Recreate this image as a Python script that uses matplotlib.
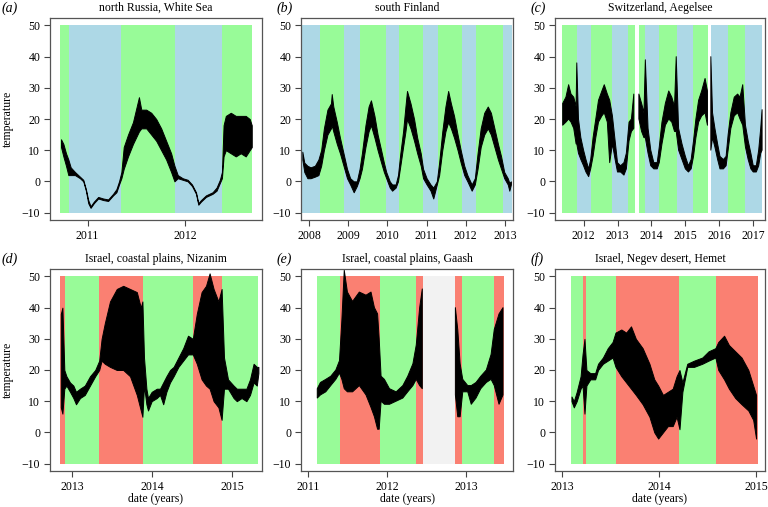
import numpy as np
import matplotlib
matplotlib.use('Agg')
import matplotlib.pyplot as plt

plt.rcParams['font.family'] = ['Liberation Serif', 'DejaVu Serif']

# season colours used for the background bands
palette = {'B': '#ADD8E6', 'G': '#98FB98', 'S': '#FA8072', 'W': '#F2F2F2'}

# (a) north Russia, White Sea
a_xlim = [2010.615, 2012.789]
a_edges = [2010.717, 2010.81, 2011.347, 2011.90, 2012.38, 2012.69]
a_cols = ['G', 'B', 'G', 'B', 'G']
a_t = [2010.728, 2010.752, 2010.779, 2010.803, 2010.827, 2010.871, 2010.922, 2010.956,
       2010.983, 2011.007, 2011.031, 2011.065, 2011.109, 2011.160, 2011.211, 2011.262,
       2011.296, 2011.323, 2011.347, 2011.371, 2011.415, 2011.466, 2011.527, 2011.551,
       2011.602, 2011.653, 2011.704, 2011.755, 2011.806, 2011.857, 2011.891, 2011.925,
       2011.976, 2012.027, 2012.071, 2012.112, 2012.136, 2012.163, 2012.214, 2012.282,
       2012.323, 2012.357, 2012.378, 2012.395, 2012.418, 2012.469, 2012.520, 2012.571,
       2012.622, 2012.663, 2012.684]
a_lo = [11, 8, 5, 2, 2, 2, 1, 0, -3, -7, -8.5, -7, -5.5, -6, -6.3, -4.5, -3.5, -1, 1, 4,
        8, 12, 16, 17, 17, 15, 13, 10, 7, 3, 0, 1, 0.5, 0, -1.5, -4, -7.5, -6.5, -5, -4,
        -3, -0.5, 1, 8, 10, 9, 8, 9, 8, 10, 11]
a_hi = [13.5, 12, 9, 7, 4.5, 3, 1.5, 0.5, -2.5, -6, -8, -6.5, -5, -5.5, -5.8, -4, -2.5,
        0, 3, 11, 15, 19, 27, 23, 23, 22, 20, 17, 13, 9, 5, 2, 1, 0.5, -1, -3.5, -7, -6,
        -4.5, -3.5, -2, 0.5, 3, 18, 21, 22, 21, 21, 21, 20, 18]

# (b) south Finland
b_xlim = [2007.796, 2013.204]
b_edges = [2007.83, 2008.28, 2008.90, 2009.30, 2009.96, 2010.30, 2010.91, 2011.30,
           2011.91, 2012.25, 2012.955, 2013.17]
b_cols = ['B', 'G', 'B', 'G', 'B', 'G', 'B', 'G', 'B', 'G', 'B']
b_t = [2007.83, 2007.88, 2007.96, 2008.04, 2008.15, 2008.24, 2008.31, 2008.38, 2008.47,
       2008.56, 2008.58, 2008.62, 2008.71, 2008.79, 2008.88, 2008.97, 2009.05, 2009.14,
       2009.22, 2009.29, 2009.35, 2009.44, 2009.52, 2009.58, 2009.67, 2009.75, 2009.84,
       2009.91, 2009.97, 2010.06, 2010.12, 2010.21, 2010.27, 2010.33, 2010.40, 2010.46,
       2010.50, 2010.59, 2010.68, 2010.76, 2010.85, 2010.91, 2011.00, 2011.10, 2011.17,
       2011.26, 2011.32, 2011.40, 2011.48, 2011.55, 2011.62, 2011.70, 2011.79, 2011.87,
       2011.96, 2012.04, 2012.15, 2012.23, 2012.30, 2012.38, 2012.47, 2012.56, 2012.64,
       2012.73, 2012.82, 2012.90, 2012.98, 2013.07, 2013.11, 2013.15]
b_lo = [7, 3, 1, 1, 1.5, 2, 5, 10, 15, 17, 18, 16, 12, 9, 5, 1, -1, -3.5, -1.5, 1, 4, 11,
        16, 18, 14, 10, 6, 3, 1, -2, -3, -2, 0, 5, 11, 16, 20, 17, 13, 9, 5, 1, -1, -3,
        -5.5, -1, 2, 10, 16, 19, 17, 14, 10, 6, 2, 0, -3, -1, 4, 11, 15, 17, 15, 11, 7, 4,
        1, -1, -3, -1]
b_hi = [9.5, 6, 5, 4.5, 5, 7, 10, 17, 23, 25, 28, 24, 19, 14, 9, 4, 1, 0, 0, 4, 9, 18,
        24, 26, 21, 15, 10, 6, 3, 0, -1, -1, 2, 9, 16, 24, 29, 25, 20, 14, 9, 4, 1, -1,
        -2, 0, 6, 16, 24, 29, 25, 21, 15, 10, 5, 2, -1, 1, 9, 17, 22, 24, 22, 17, 12, 8,
        3, 1, -0.5, 0]

# (c) Switzerland, Aegelsee  (None = no data)
c_xlim = [2011.158, 2017.346]
c_edges = [2011.37, 2011.80, 2012.21, 2012.83, 2013.31, 2013.52, 2013.64, 2013.80,
           2014.22, 2014.74, 2015.22, 2015.67, 2015.76, 2016.26, 2016.77, 2017.27]
c_cols = ['G', 'B', 'G', 'B', 'G', None, 'G', 'B', 'G', 'B', 'G', None, 'B', 'G', 'B']
c_t = [2011.385, 2011.48, 2011.56, 2011.63, 2011.71, 2011.78, 2011.80, 2011.85, 2011.92,
       2012.00, 2012.07, 2012.15, 2012.21, 2012.28, 2012.36, 2012.44, 2012.54, 2012.61,
       2012.70, 2012.77, 2012.85, 2012.93, 2013.00, 2013.09, 2013.19, 2013.26, 2013.34,
       2013.41, 2013.48, 2013.55, 2013.63, 2013.71, 2013.78, 2013.82, 2013.90, 2013.98,
       2014.07, 2014.17, 2014.23, 2014.31, 2014.41, 2014.51, 2014.60, 2014.68, 2014.73,
       2014.80, 2014.90, 2015.00, 2015.09, 2015.17, 2015.24, 2015.31, 2015.39, 2015.48,
       2015.58, 2015.65, 2015.70, 2015.75, 2015.80, 2015.87, 2015.95, 2016.02, 2016.12,
       2016.20, 2016.26, 2016.34, 2016.44, 2016.54, 2016.61, 2016.69, 2016.77, 2016.85,
       2016.93, 2017.00, 2017.09, 2017.16, 2017.22, 2017.26]
c_lo = [18, 19, 20, 19, 17, 12, 12, 9, 7, 5, 3, 1.5, 4, 8, 14, 19, 21, 22, 19, 6, 12, 7,
        3, 3, 2, 4, 13, 16, 17, np.nan, 20, 16, 14, 14, 9, 5, 4, 4, 6, 12, 18, 20, 19, 16,
        16, 10, 7, 4, 3, 4, 8, 14, 19, 21, 22, 18, np.nan, 10, 14, 11, 7, 4, 4, 5, 10, 17,
        21, 22, 20, 18, 11, 7, 4, 3, 3, 5, 9, 10]
c_hi = [25, 27, 31, 28, 27, 24, 38, 20, 14, 10, 7, 4, 7, 14, 20, 26, 29, 31, 28, 26, 21,
        13, 6, 5, 6, 9, 19, 20, 28, np.nan, 28, 25, 22, 39, 17, 10, 6, 6, 11, 19, 25, 29,
        27, 24, 40, 17, 12, 8, 5, 7, 13, 20, 26, 29, 33, 29, np.nan, 40, 22, 17, 12, 8, 7,
        8, 15, 22, 27, 28, 27, 31, 18, 13, 9, 5, 5, 10, 17, 23]

# (d) Israel, coastal plains, Nizanim
d_xlim = [2012.725, 2015.375]
d_edges = [2012.856, 2012.91, 2013.34, 2013.89, 2014.51, 2014.88, 2015.325]
d_cols = ['S', 'G', 'S', 'G', 'S', 'G']
d_t = [2012.86, 2012.88, 2012.904, 2012.93, 2012.975, 2013.017, 2013.05, 2013.10,
       2013.16, 2013.225, 2013.29, 2013.34, 2013.37, 2013.41, 2013.475, 2013.56, 2013.64,
       2013.725, 2013.81, 2013.86, 2013.88, 2013.90, 2013.93, 2013.95, 2013.996, 2014.06,
       2014.10, 2014.14, 2014.18, 2014.225, 2014.27, 2014.33, 2014.39, 2014.45, 2014.51,
       2014.56, 2014.62, 2014.675, 2014.72, 2014.77, 2014.83, 2014.87, 2014.90, 2014.95,
       2015.02, 2015.06, 2015.12, 2015.18, 2015.225, 2015.27, 2015.31, 2015.33]
d_lo = [8, 6, 14, 15, 13, 11, 9, 11, 12, 15, 18, 20, 23, 22, 21, 20, 20, 18, 12, 7, 5,
        15, 9, 7, 10, 11, 12, 9, 13, 16, 18, 21, 23, 25, 25, 22, 17, 15, 14, 10, 8, 4, 14,
        14, 11, 10, 11, 10, 12, 16, 15, 19]
d_hi = [38, 40, 20, 18, 16, 15, 13, 14, 15, 18, 20, 23, 30, 35, 42, 46, 47, 46, 45, 40,
        42, 24, 14, 11, 13, 14, 14, 16, 18, 20, 21, 24, 27, 31, 30, 38, 45, 47, 51, 46, 42,
        46, 24, 17, 15, 14, 14, 14, 17, 22, 21, 21]

# (e) Israel, coastal plains, Gaash
e_xlim = [2010.915, 2013.586]
e_edges = [2011.12, 2011.41, 2011.915, 2012.36, 2012.45, 2012.86, 2012.94, 2013.35, 2013.47]
e_cols = ['G', 'S', 'G', 'S', 'W', 'S', 'G', 'S']
e_t = [2011.12, 2011.16, 2011.227, 2011.29, 2011.354, 2011.40, 2011.43, 2011.46, 2011.50,
       2011.565, 2011.65, 2011.734, 2011.797, 2011.84, 2011.88, 2011.90, 2011.924,
       2011.966, 2012.03, 2012.114, 2012.198, 2012.26, 2012.325, 2012.367, 2012.41,
       2012.443, 2012.65, 2012.86, 2012.89, 2012.92, 2012.953, 2013.016, 2013.06, 2013.12,
       2013.18, 2013.25, 2013.31, 2013.35, 2013.41, 2013.46]
e_lo = [11, 12, 13, 15, 17, 19, 17, 14, 13, 13, 15, 12, 8, 5, 1, 1, 10, 9, 9, 10, 11, 13,
        15, 17, 15, 14, np.nan, 12, 5, 5, 13, 13, 9, 11, 14, 16, 17, 15, 9, 12]
e_hi = [14, 16, 17, 18, 20, 23, 36, 52, 45, 42, 45, 44, 45, 40, 38, 30, 18, 17, 14, 13,
        15, 18, 22, 28, 40, 46, np.nan, 40, 33, 22, 17, 15, 15, 16, 18, 20, 25, 33, 38, 40]

# (f) Israel, Negev desert, Hemet
f_xlim = [2012.926, 2015.092]
f_edges = [2013.096, 2013.211, 2013.249, 2013.551, 2014.208, 2014.585, 2015.017]
f_cols = ['G', 'S', 'G', 'S', 'G', 'S']
f_t = [2013.096, 2013.12, 2013.15, 2013.19, 2013.21, 2013.23, 2013.25, 2013.29, 2013.34,
       2013.37, 2013.42, 2013.47, 2013.52, 2013.55, 2013.61, 2013.66, 2013.71, 2013.76,
       2013.83, 2013.90, 2013.95, 2013.99, 2014.04, 2014.09, 2014.14, 2014.18, 2014.21,
       2014.24, 2014.29, 2014.36, 2014.445, 2014.51, 2014.58, 2014.61, 2014.67, 2014.72,
       2014.785, 2014.85, 2014.92, 2014.97, 2015.00]
f_lo = [10, 8, 10, 14, 15, 6, 15, 17, 17, 20, 22, 23, 24, 21, 18, 16, 14, 12, 9, 5, 0,
        -2, 0, 2, 2, 5, 1, 13, 21, 21, 22, 23, 24, 20, 17, 14, 11, 9, 7, 4, -2]
f_hi = [11.5, 10, 13, 18, 25, 30, 20, 19, 19, 22, 24, 27, 29, 32, 33, 32, 34, 30, 27, 22,
        17, 15, 12, 13, 14, 18, 20, 16, 22, 23, 24, 26, 27, 29, 31, 28, 26, 24, 20, 15, 12]

panels = [
    ('(a)', 'north Russia, White Sea', a_xlim, a_edges, a_cols, a_t, a_lo, a_hi),
    ('(b)', 'south Finland', b_xlim, b_edges, b_cols, b_t, b_lo, b_hi),
    ('(c)', 'Switzerland, Aegelsee', c_xlim, c_edges, c_cols, c_t, c_lo, c_hi),
    ('(d)', 'Israel, coastal plains, Nizanim', d_xlim, d_edges, d_cols, d_t, d_lo, d_hi),
    ('(e)', 'Israel, coastal plains, Gaash', e_xlim, e_edges, e_cols, e_t, e_lo, e_hi),
    ('(f)', 'Israel, Negev desert, Hemet', f_xlim, f_edges, f_cols, f_t, f_lo, f_hi),
]

W, H = 768, 507
fig = plt.figure(figsize=(W / 100, H / 100), dpi=100)

lefts = [50, 301, 555]
widths = [212, 212, 210]
tops = [18, 269]
ah = 202
label_x = [2, 277, 531]

for i, (lab, title, xlim, edges, cols, t, lo, hi) in enumerate(panels):
    r, c = divmod(i, 3)
    ax = fig.add_axes([lefts[c] / W, 1 - (tops[r] + ah) / H, widths[c] / W, ah / H])

    # background season bands from -10 to 50
    for x0, x1, col in zip(edges[:-1], edges[1:], cols):
        if col is None:
            continue
        ax.bar(x0, 60, width=x1 - x0, bottom=-10, align='edge',
               color=palette[col], linewidth=0, zorder=1)

    ax.fill_between(t, lo, hi, color='black', edgecolor='black',
                    linewidth=0.7, zorder=2)

    ax.set_xlim(xlim)
    ax.set_ylim(-12.4, 52.4)
    yrs = np.arange(np.ceil(xlim[0]), xlim[1])
    ax.set_xticks(yrs)
    ax.set_xticklabels([str(int(y)) for y in yrs])
    ax.set_yticks([-10, 0, 10, 20, 30, 40, 50])
    ax.set_yticklabels(['\u221210', '0', '10', '20', '30', '40', '50'])
    ax.tick_params(direction='out', length=4, width=0.8, colors='#444444',
                   labelcolor='black', labelsize=8.5)
    ax.tick_params(axis='x', pad=3)
    ax.tick_params(axis='y', pad=3)
    for sp in ax.spines.values():
        sp.set_color('#555555')
        sp.set_linewidth(0.9)

    ax.set_title(title, fontsize=8.5, pad=5)
    fig.text(label_x[c] / W, 1 - (tops[r] - 10) / H, lab, fontsize=10,
             style='italic', ha='left', va='center')
    if c == 0:
        ax.set_ylabel('temperature', fontsize=8.5, labelpad=6)
    if r == 1:
        fig.text((lefts[c] + widths[c] / 2) / W, 1 - 499 / H, 'date (years)',
                 fontsize=8.5, ha='center', va='center')

fig.savefig('out.png', dpi=100)
